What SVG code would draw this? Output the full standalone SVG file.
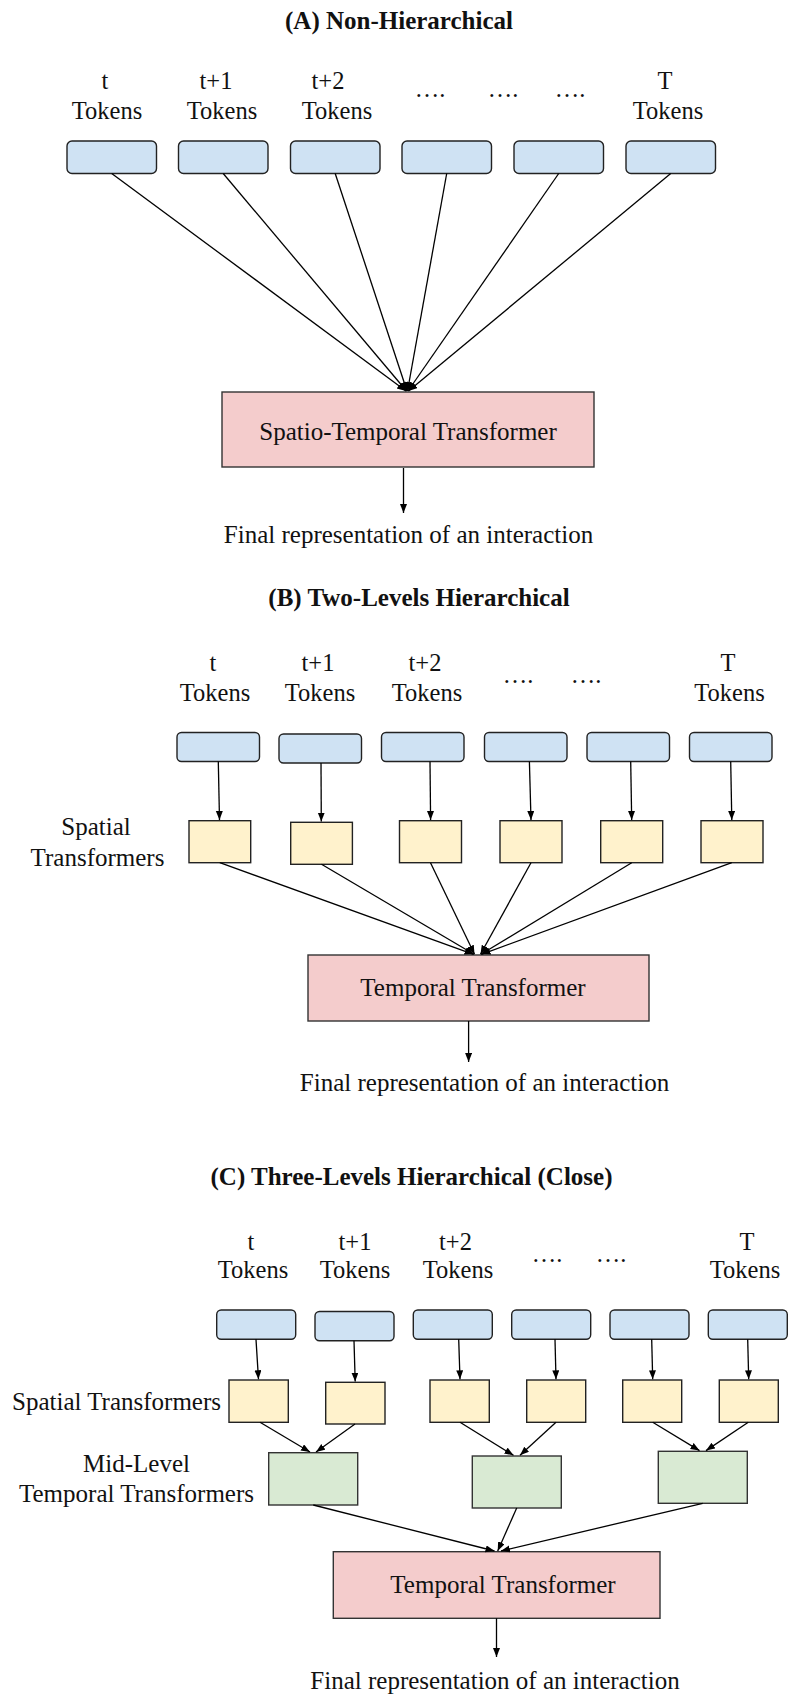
<svg xmlns="http://www.w3.org/2000/svg" width="788" height="1697" viewBox="0 0 788 1697">
  <style>
    text { font-family: "Liberation Serif", "Times New Roman", serif; fill: #111; }
    .title { font-size: 25px; font-weight: bold; text-anchor: middle; }
    .lbl { font-size: 24.5px; text-anchor: middle; }
    .txt { font-size: 25px; text-anchor: middle; }
    .tok { fill: #cfe2f3; stroke: #222; stroke-width: 1.4; }
    .spa { fill: #fff2cc; stroke: #222; stroke-width: 1.4; }
    .mid { fill: #d9ead3; stroke: #333; stroke-width: 1.4; }
    .tmp { fill: #f4cccc; stroke: #333; stroke-width: 1.4; }
    .edge { stroke: #000; stroke-width: 1.3; fill: none; marker-end: url(#arrow); }
  </style>
  <defs>
    <marker id="arrow" markerUnits="userSpaceOnUse" markerWidth="10" markerHeight="8" refX="9" refY="3.5" orient="auto">
      <path d="M0,0 L9,3.5 L0,7 z" fill="#000"/>
    </marker>
  </defs>
  <rect width="788" height="1697" fill="#fff"/>

  <!-- (A) Non-Hierarchical -->
  <g id="section-a">
    <text class="title" x="399" y="28.5">(A) Non-Hierarchical</text>
    <g id="a-labels">
      <text class="lbl" x="105" y="89">t</text><text class="lbl" x="107" y="119">Tokens</text>
      <text class="lbl" x="216" y="89">t+1</text><text class="lbl" x="222" y="119">Tokens</text>
      <text class="lbl" x="328" y="89">t+2</text><text class="lbl" x="337" y="119">Tokens</text>
      <text class="lbl" x="430" y="97">….</text>
      <text class="lbl" x="503" y="97">….</text>
      <text class="lbl" x="570" y="97">….</text>
      <text class="lbl" x="665" y="89">T</text><text class="lbl" x="668" y="119">Tokens</text>
    </g>
    <g id="a-tok1"><rect class="tok" x="67" y="141" width="89.5" height="32.5" rx="5"/></g>
    <g id="a-tok2"><rect class="tok" x="178.5" y="141" width="89.5" height="32.5" rx="5"/></g>
    <g id="a-tok3"><rect class="tok" x="290.5" y="141" width="89.5" height="32.5" rx="5"/></g>
    <g id="a-tok4"><rect class="tok" x="402" y="141" width="89.5" height="32.5" rx="5"/></g>
    <g id="a-tok5"><rect class="tok" x="514" y="141" width="89.5" height="32.5" rx="5"/></g>
    <g id="a-tok6"><rect class="tok" x="626" y="141" width="89.5" height="32.5" rx="5"/></g>
    <g id="a-st">
      <rect class="tmp" x="222" y="392" width="372" height="75"/>
      <text class="txt" x="408" y="440">Spatio-Temporal Transformer</text>
    </g>
    <text class="txt" x="408.5" y="542.5">Final representation of an interaction</text>
  </g>

  <!-- (B) Two-Levels Hierarchical -->
  <g id="section-b">
    <text class="title" x="419" y="605.5">(B) Two-Levels Hierarchical</text>
    <g id="b-labels">
      <text class="lbl" x="213" y="671">t</text><text class="lbl" x="215" y="701">Tokens</text>
      <text class="lbl" x="318" y="671">t+1</text><text class="lbl" x="320" y="701">Tokens</text>
      <text class="lbl" x="425" y="671">t+2</text><text class="lbl" x="427" y="701">Tokens</text>
      <text class="lbl" x="518" y="683">….</text>
      <text class="lbl" x="586" y="683">….</text>
      <text class="lbl" x="728" y="671">T</text><text class="lbl" x="729.5" y="701">Tokens</text>
      <text class="txt" x="96" y="835">Spatial</text>
      <text class="txt" x="97.5" y="865.5">Transformers</text>
    </g>
    <g id="b-tok1"><rect class="tok" x="177" y="732.5" width="82.5" height="29" rx="4.5"/></g>
    <g id="b-tok2"><rect class="tok" x="279" y="734" width="82.5" height="29" rx="4.5"/></g>
    <g id="b-tok3"><rect class="tok" x="381.5" y="732.5" width="82.5" height="29" rx="4.5"/></g>
    <g id="b-tok4"><rect class="tok" x="484.5" y="732.5" width="82.5" height="29" rx="4.5"/></g>
    <g id="b-tok5"><rect class="tok" x="587" y="732.5" width="82.5" height="29" rx="4.5"/></g>
    <g id="b-tok6"><rect class="tok" x="689.5" y="732.5" width="82.5" height="29" rx="4.5"/></g>
    <g id="b-sp1"><rect class="spa" x="189" y="820.7" width="61.7" height="42"/></g>
    <g id="b-sp2"><rect class="spa" x="290.7" y="822.3" width="61.7" height="42"/></g>
    <g id="b-sp3"><rect class="spa" x="399.5" y="820.7" width="62" height="42"/></g>
    <g id="b-sp4"><rect class="spa" x="500" y="820.7" width="62" height="42"/></g>
    <g id="b-sp5"><rect class="spa" x="600.7" y="820.7" width="62" height="42"/></g>
    <g id="b-sp6"><rect class="spa" x="701" y="820.7" width="62" height="42"/></g>
    <g id="b-tt">
      <rect class="tmp" x="308" y="955" width="341" height="66"/>
      <text class="txt" x="473" y="995.5">Temporal Transformer</text>
    </g>
    <text class="txt" x="484.5" y="1090.5">Final representation of an interaction</text>
  </g>

  <!-- (C) Three-Levels Hierarchical (Close) -->
  <g id="section-c">
    <text class="title" x="411.5" y="1184.5">(C) Three-Levels Hierarchical (Close)</text>
    <g id="c-labels">
      <text class="lbl" x="251" y="1250">t</text><text class="lbl" x="253" y="1278">Tokens</text>
      <text class="lbl" x="355" y="1250">t+1</text><text class="lbl" x="355" y="1278">Tokens</text>
      <text class="lbl" x="455.5" y="1250">t+2</text><text class="lbl" x="458" y="1278">Tokens</text>
      <text class="lbl" x="547" y="1262">….</text>
      <text class="lbl" x="611" y="1262">….</text>
      <text class="lbl" x="747" y="1250">T</text><text class="lbl" x="745" y="1278">Tokens</text>
      <text class="txt" x="12" y="1409.5" style="text-anchor:start">Spatial Transformers</text>
      <text class="txt" x="136.5" y="1471.5">Mid-Level</text>
      <text class="txt" x="136.5" y="1501.5">Temporal Transformers</text>
    </g>
    <g id="c-tok1"><rect class="tok" x="216.7" y="1310" width="79" height="29.3" rx="4.5"/></g>
    <g id="c-tok2"><rect class="tok" x="315" y="1311.5" width="79" height="29.3" rx="4.5"/></g>
    <g id="c-tok3"><rect class="tok" x="413.3" y="1310" width="79" height="29.3" rx="4.5"/></g>
    <g id="c-tok4"><rect class="tok" x="511.7" y="1310" width="79" height="29.3" rx="4.5"/></g>
    <g id="c-tok5"><rect class="tok" x="610" y="1310" width="79" height="29.3" rx="4.5"/></g>
    <g id="c-tok6"><rect class="tok" x="708.3" y="1310" width="79" height="29.3" rx="4.5"/></g>
    <g id="c-sp1"><rect class="spa" x="229" y="1380" width="59.3" height="42.3"/></g>
    <g id="c-sp2"><rect class="spa" x="325.7" y="1382.3" width="59.3" height="41.7"/></g>
    <g id="c-sp3"><rect class="spa" x="430" y="1380" width="59.3" height="42.3"/></g>
    <g id="c-sp4"><rect class="spa" x="526.7" y="1380" width="59" height="42.3"/></g>
    <g id="c-sp5"><rect class="spa" x="622.7" y="1380" width="59" height="42.3"/></g>
    <g id="c-sp6"><rect class="spa" x="719.3" y="1380" width="59" height="42.3"/></g>
    <g id="c-mid1"><rect class="mid" x="268.7" y="1452.7" width="89" height="52.3"/></g>
    <g id="c-mid2"><rect class="mid" x="472.3" y="1456" width="89" height="52"/></g>
    <g id="c-mid3"><rect class="mid" x="658.3" y="1451.3" width="89" height="52"/></g>
    <g id="c-tt">
      <rect class="tmp" x="333.3" y="1551.7" width="326.7" height="66.6"/>
      <text class="txt" x="503" y="1593.3">Temporal Transformer</text>
    </g>
    <text class="txt" x="495" y="1689.3">Final representation of an interaction</text>
  </g>

  <!-- connectors -->
  <g id="connectors">
    <!-- A: every token group feeds the spatio-temporal transformer -->
    <line class="edge" x1="111.7" y1="173.5" x2="406" y2="391"/>
    <line class="edge" x1="223.2" y1="173.5" x2="406.5" y2="391"/>
    <line class="edge" x1="335.2" y1="173.5" x2="407" y2="391"/>
    <line class="edge" x1="446.7" y1="173.5" x2="407.5" y2="391"/>
    <line class="edge" x1="558.7" y1="173.5" x2="408" y2="391"/>
    <line class="edge" x1="670.7" y1="173.5" x2="408.5" y2="391"/>
    <line class="edge" x1="403.5" y1="468" x2="403.5" y2="513"/>

    <!-- B: tokens to spatial transformers -->
    <line class="edge" x1="218.3" y1="761.5" x2="219.5" y2="820"/>
    <line class="edge" x1="321" y1="763" x2="321.3" y2="821.6"/>
    <line class="edge" x1="430" y1="761.5" x2="430.6" y2="820"/>
    <line class="edge" x1="529.4" y1="761.5" x2="531" y2="820"/>
    <line class="edge" x1="630.7" y1="761.5" x2="631.7" y2="820"/>
    <line class="edge" x1="730.7" y1="761.5" x2="731.8" y2="820"/>
    <!-- B: spatial transformers to temporal transformer -->
    <line class="edge" x1="219.8" y1="862.7" x2="473.5" y2="954.3"/>
    <line class="edge" x1="321.5" y1="864.3" x2="474" y2="954.3"/>
    <line class="edge" x1="430.5" y1="862.7" x2="474.5" y2="954.3"/>
    <line class="edge" x1="531" y1="862.7" x2="480.5" y2="954.3"/>
    <line class="edge" x1="631.7" y1="862.7" x2="481" y2="954.3"/>
    <line class="edge" x1="731.8" y1="862.7" x2="481.5" y2="954.3"/>
    <line class="edge" x1="468.6" y1="1021" x2="468.6" y2="1062"/>

    <!-- C: tokens to spatial transformers -->
    <line class="edge" x1="256" y1="1339.3" x2="258.5" y2="1379.3"/>
    <line class="edge" x1="354" y1="1340.8" x2="355.2" y2="1381.6"/>
    <line class="edge" x1="458.7" y1="1339.3" x2="460" y2="1379.3"/>
    <line class="edge" x1="555" y1="1339.3" x2="556" y2="1379.3"/>
    <line class="edge" x1="651.7" y1="1339.3" x2="652.7" y2="1379.3"/>
    <line class="edge" x1="747.7" y1="1339.3" x2="748.7" y2="1379.3"/>
    <!-- C: spatial pairs to mid-level temporal transformers -->
    <line class="edge" x1="260" y1="1422.3" x2="310" y2="1452"/>
    <line class="edge" x1="355" y1="1424" x2="316" y2="1452"/>
    <line class="edge" x1="460" y1="1422.3" x2="513.5" y2="1455.3"/>
    <line class="edge" x1="556" y1="1422.3" x2="520" y2="1455.3"/>
    <line class="edge" x1="652.7" y1="1422.3" x2="699.5" y2="1450.6"/>
    <line class="edge" x1="748.3" y1="1422.3" x2="706" y2="1450.6"/>
    <!-- C: mid-level to top temporal transformer -->
    <line class="edge" x1="313.3" y1="1505" x2="494.5" y2="1551"/>
    <line class="edge" x1="516.7" y1="1508" x2="497.7" y2="1551"/>
    <line class="edge" x1="702.7" y1="1503.3" x2="501" y2="1551"/>
    <line class="edge" x1="496.5" y1="1618.3" x2="496.5" y2="1657"/>
  </g>
</svg>
